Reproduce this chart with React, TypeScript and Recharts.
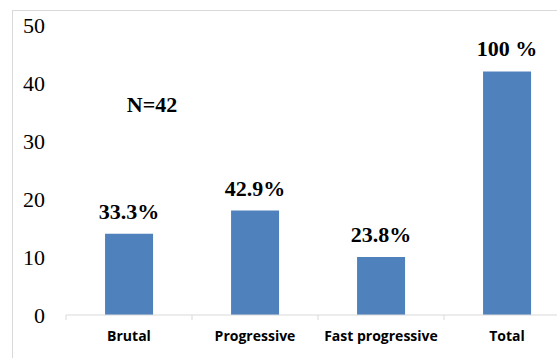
import React from 'react';
import { BarChart, Bar, XAxis, YAxis, LabelList } from 'recharts';

const categories = ['Brutal', 'Progressive', 'Fast progressive', 'Total'];
const counts = [14, 18, 10, 42];
const percentLabels = ['33.3%', '42.9%', '23.8%', '100 %'];
const yTicks = [0, 10, 20, 30, 40, 50];
const noteText = 'N=42';

const data = categories.map((c, i) => ({ name: c, value: counts[i], pct: percentLabels[i] }));

const CategoryTick = (props: any) => {
  const { x, y, payload } = props;
  const half = payload && payload.offset ? payload.offset : 63;
  const axisY = y - 8;
  return (
    <g>
      <line x1={x - half} x2={x - half} y1={axisY} y2={axisY + 5} stroke="#d9d9d9" strokeWidth={1} />
      <text
        x={x}
        y={axisY + 26}
        textAnchor="middle"
        fontFamily="'Open Sans', sans-serif"
        fontWeight="bold"
        fontSize={14}
        fill="#000"
      >
        {payload.value}
      </text>
    </g>
  );
};

export default function App() {
  return (
    <div
      style={{
        position: 'absolute',
        left: 0,
        top: 0,
        width: 557,
        height: 358,
        overflow: 'hidden',
        background: '#fff',
      }}
    >
      <div
        style={{
          position: 'absolute',
          left: 12,
          top: 10,
          width: 700,
          height: 500,
          border: '1px solid #d9d9d9',
        }}
      />
      <div style={{ position: 'absolute', left: 0, top: 0 }}>
        <BarChart
          width={590}
          height={358}
          data={data}
          margin={{ top: 25, right: 20, bottom: 13, left: 0 }}
          barCategoryGap="31%"
        >
          <XAxis
            dataKey="name"
            height={30}
            axisLine={{ stroke: '#d9d9d9' }}
            tickLine={false}
            tickSize={6}
            tickMargin={2}
            tick={<CategoryTick />}
            interval={0}
          />
          <YAxis
            width={66}
            domain={[0, 50]}
            ticks={yTicks}
            axisLine={false}
            tickLine={false}
            tickMargin={15}
            tick={{ fontFamily: "'Liberation Serif', serif", fontSize: 22, fill: '#000' }}
          />
          <Bar dataKey="value" fill="#4F81BD" isAnimationActive={false}>
            <LabelList
              dataKey="pct"
              position="top"
              offset={15}
              style={{ fontFamily: "'Liberation Serif', serif", fontSize: 22, fontWeight: 'bold', fill: '#000' }}
            />
          </Bar>
        </BarChart>
      </div>
      <div
        style={{
          position: 'absolute',
          left: 102,
          top: 90,
          width: 100,
          textAlign: 'center',
          fontFamily: "'Liberation Serif', serif",
          fontSize: 22,
          fontWeight: 'bold',
          lineHeight: '30px',
          color: '#000',
        }}
      >
        {noteText}
      </div>
    </div>
  );
}
